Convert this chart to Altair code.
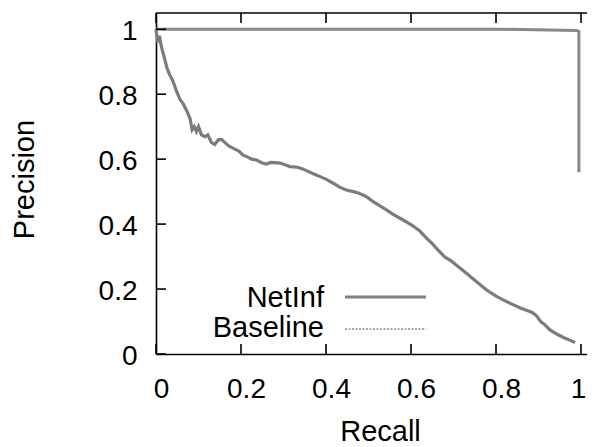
import altair as alt
import pandas as pd

# ---- data ----
baseline_recall = [
    0.0, 0.004, 0.008, 0.012, 0.016, 0.02, 0.026, 0.032, 0.04, 0.048,
    0.056, 0.064, 0.072, 0.08, 0.085, 0.09, 0.095, 0.1, 0.107, 0.115,
    0.122, 0.13, 0.138, 0.147, 0.155, 0.163, 0.172, 0.182, 0.195, 0.205,
    0.215, 0.225, 0.237, 0.25, 0.26, 0.27, 0.28, 0.292, 0.305, 0.315,
    0.323, 0.333, 0.345, 0.357, 0.37, 0.385, 0.402, 0.418, 0.433, 0.448,
    0.464, 0.476, 0.488, 0.5, 0.511, 0.527, 0.543, 0.558, 0.574, 0.59,
    0.605, 0.62, 0.637, 0.65, 0.665, 0.68, 0.692, 0.71, 0.731, 0.755,
    0.778, 0.8, 0.818, 0.84, 0.86, 0.872, 0.885, 0.896, 0.905, 0.915,
    0.927, 0.945, 0.96, 0.975, 0.986,
]
baseline_precision = [
    1.0, 0.96, 0.98, 0.95, 0.93, 0.91, 0.88, 0.86, 0.84, 0.81,
    0.785, 0.77, 0.75, 0.725, 0.69, 0.70, 0.685, 0.70, 0.675, 0.669,
    0.675, 0.652, 0.645, 0.66, 0.66, 0.65, 0.64, 0.633, 0.625, 0.612,
    0.607, 0.60, 0.597, 0.588, 0.585, 0.59, 0.589, 0.588, 0.582, 0.577,
    0.576, 0.575, 0.57, 0.563, 0.555, 0.547, 0.537, 0.525, 0.513, 0.505,
    0.50, 0.496, 0.489, 0.48, 0.469, 0.456, 0.443, 0.43, 0.418, 0.406,
    0.394, 0.38, 0.356, 0.34, 0.318, 0.298, 0.289, 0.27, 0.248, 0.222,
    0.197, 0.178, 0.166, 0.152, 0.14, 0.135, 0.128, 0.117, 0.1, 0.09,
    0.074, 0.06, 0.05, 0.042, 0.035,
]
netinf_recall = [0.0, 0.81, 0.99, 0.995, 0.995]
netinf_precision = [1.0, 1.0, 0.996, 0.993, 0.56]

x_ticks = [0, 0.2, 0.4, 0.6, 0.8, 1.0]
y_ticks = [0, 0.2, 0.4, 0.6, 0.8, 1.0]
legend_labels = ["NetInf", "Baseline"]

FONT = "Liberation Sans"
W, H = 431, 341
X_MAX, Y_MAX = 1.0141, 1.05

base_df = pd.DataFrame({
    "recall": baseline_recall,
    "precision": baseline_precision,
    "idx": list(range(len(baseline_recall))),
})
net_df = pd.DataFrame({
    "recall": netinf_recall,
    "precision": netinf_precision,
    "idx": list(range(len(netinf_recall))),
})
ticks_df = pd.DataFrame({"xv": x_ticks, "yv": y_ticks})
one_df = pd.DataFrame({"k": [0]})

xs = alt.Scale(domain=[0, X_MAX], nice=False, zero=False)
ys = alt.Scale(domain=[0, Y_MAX], nice=False, zero=False)

common = dict(
    domainColor="black", domainWidth=1.6, ticks=False, tickSize=0,
    labelFont=FONT, labelFontSize=28, labelColor="black",
    titleFont=FONT, titleFontSize=29, titleColor="black",
    titleFontWeight="normal", grid=False,
)

x_axis = alt.Axis(
    orient="bottom", values=x_ticks, format="~g",
    labelPadding=43, labelBaseline="alphabetic",
    labelOffset={"condition": {"test": "datum.value == 1", "value": -3}, "value": 5},
    labelFlush=False, labelOverlap=False,
    title="Recall", titleX=224, titleY=86, titleAlign="center",
    titleBaseline="alphabetic", **common,
)
y_axis = alt.Axis(
    orient="left", values=y_ticks, format="~g",
    labelPadding=19, labelAlign="right",
    labelBaseline="middle", labelOffset=2, labelFlush=False, labelOverlap=False,
    title="Precision", titleAngle=270, titleX=-123, titleY=166,
    titleAlign="center", titleBaseline="alphabetic", **common,
)

baseline_line = alt.Chart(base_df).mark_line(
    color="#7c7c7c", strokeWidth=3.2
).encode(
    x=alt.X("recall:Q", scale=xs, axis=x_axis),
    y=alt.Y("precision:Q", scale=ys, axis=y_axis),
    order="idx:Q",
)

netinf_line = alt.Chart(net_df).mark_line(
    color="#888888", strokeWidth=3
).encode(
    x=alt.X("recall:Q", scale=xs, axis=x_axis),
    y=alt.Y("precision:Q", scale=ys, axis=y_axis),
    order="idx:Q",
)

# top edge of the frame
top_frame = alt.Chart(one_df).mark_rule(color="black", strokeWidth=1.6).encode(
    x=alt.value(0), x2=alt.value(W), y=alt.value(0)
)

# inward-pointing ticks (gnuplot style), placed through the scales
tick_bottom = alt.Chart(ticks_df).mark_rule(color="black", strokeWidth=1.6).encode(
    x=alt.X("xv:Q", scale=xs, axis=x_axis), y=alt.value(H), y2=alt.value(H - 10)
)
tick_top = alt.Chart(ticks_df).mark_rule(color="black", strokeWidth=1.6).encode(
    x=alt.X("xv:Q", scale=xs, axis=x_axis), y=alt.value(0), y2=alt.value(10)
)
tick_left = alt.Chart(ticks_df).mark_rule(color="black", strokeWidth=1.6).encode(
    y=alt.Y("yv:Q", scale=ys, axis=y_axis), x=alt.value(0), x2=alt.value(10)
)

leg_net_text = alt.Chart(pd.DataFrame({"label": [legend_labels[0]]})).mark_text(
    align="right", baseline="alphabetic", font=FONT, fontSize=29, color="black"
).encode(x=alt.value(168), y=alt.value(294), text="label:N")

leg_base_text = alt.Chart(pd.DataFrame({"label": [legend_labels[1]]})).mark_text(
    align="right", baseline="alphabetic", font=FONT, fontSize=29, color="black"
).encode(x=alt.value(168), y=alt.value(324), text="label:N")

leg_net_line = alt.Chart(pd.DataFrame({"label": [legend_labels[0]]})).mark_rule(
    color="#808080", strokeWidth=3
).encode(x=alt.value(189), x2=alt.value(270), y=alt.value(284))

leg_base_line = alt.Chart(pd.DataFrame({"label": [legend_labels[1]]})).mark_rule(
    color="#a8a8a8", strokeWidth=2, strokeDash=[2, 1.5]
).encode(x=alt.value(189), x2=alt.value(270), y=alt.value(316))

chart = alt.layer(
    baseline_line, netinf_line, top_frame, tick_bottom, tick_top, tick_left,
    leg_net_text, leg_base_text, leg_net_line, leg_base_line
).properties(
    width=W, height=H,
    autosize=alt.AutoSizeParams(type="none"),
    padding={"left": 148, "top": 5, "right": 0, "bottom": 93},
    background="white",
).configure_view(stroke=None)

chart.save("out.html", embed_options={"renderer": "svg", "actions": False})
